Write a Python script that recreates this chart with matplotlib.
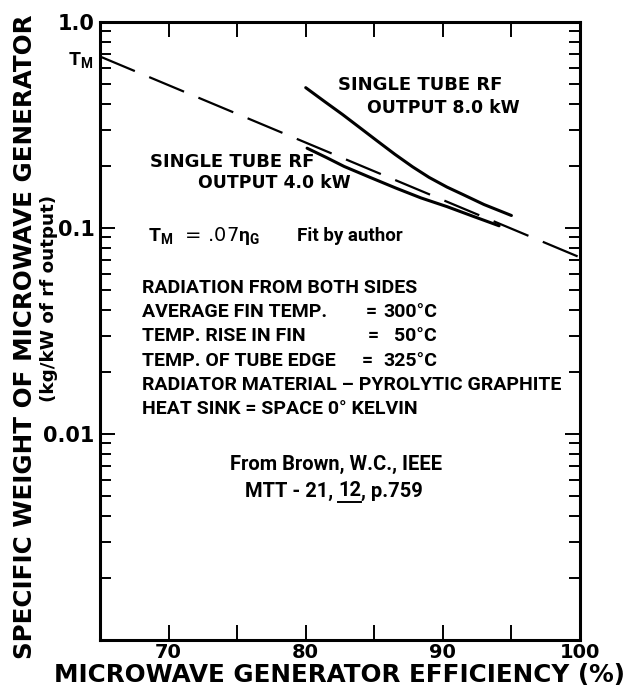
import matplotlib
matplotlib.use("Agg")
import matplotlib.pyplot as plt
from matplotlib.lines import Line2D
from matplotlib.ticker import LogLocator, NullFormatter

# Microwave generator efficiency (%) vs specific weight (kg/kW of rf output)
eff_fit = [65.0, 100.0]
weight_fit = [0.68, 0.072]

eff_8kw = [80.0, 81.4, 82.7, 84.0, 85.2, 86.5, 87.8, 89.0, 90.3, 91.5, 93.0, 95.0]
weight_8kw = [0.48, 0.41, 0.355, 0.305, 0.265, 0.228, 0.198, 0.176, 0.158, 0.145, 0.130, 0.115]

eff_4kw = [80.1, 81.5, 82.8, 84.7, 86.6, 88.4, 90.3, 92.2, 94.1]
weight_4kw = [0.244, 0.22, 0.199, 0.176, 0.156, 0.14, 0.127, 0.114, 0.1025]

x_ticks = [70, 75, 80, 85, 90, 95, 100]
x_tick_labels = ["70", "", "80", "", "90", "", "100"]
y_ticks = [0.001, 0.01, 0.1, 1.0]
y_tick_labels = ["", "0.01", "0.1", "1.0"]

# (text, value after "=", x of "=" in px)
conditions = [
    ("RADIATION FROM BOTH SIDES", None, None),
    ("AVERAGE FIN TEMP.", "300°C", 366),
    ("TEMP. RISE IN FIN", "50°C", 368),
    ("TEMP. OF TUBE EDGE", "325°C", 362),
    ("RADIATOR MATERIAL \u2013 PYROLYTIC GRAPHITE", None, None),
    ("HEAT SINK = SPACE 0° KELVIN", None, None),
]

W, H = 628, 700
plt.rcParams["mathtext.fontset"] = "custom"
plt.rcParams["mathtext.rm"] = "Roboto:bold"
plt.rcParams["mathtext.it"] = "Roboto:bold"
plt.rcParams["mathtext.bf"] = "Roboto:bold"

LABEL = dict(family="DejaVu Sans", weight="bold")
BODY = dict(family=["Roboto", "DejaVu Sans"], weight="bold")

fig = plt.figure(figsize=(W / 100, H / 100), dpi=100)
ax = fig.add_axes([100 / W, 60 / H, 480 / W, 618 / H])


def px(x, y):
    # pixel position (from top-left) -> figure fraction
    return x / W, 1 - y / H


ax.plot(eff_fit, weight_fit, color="black", lw=1.6, dashes=(17, 7))
ax.plot(eff_8kw, weight_8kw, color="black", lw=2.2, solid_capstyle="round")
ax.plot(eff_4kw, weight_4kw, color="black", lw=2.2, solid_capstyle="round")

ax.set_yscale("log")
ax.set_xlim(65, 100)
ax.set_ylim(0.001, 1.0)

ax.set_xticks(x_ticks)
ax.set_xticklabels(x_tick_labels, fontsize=14, **LABEL)
ax.set_yticks(y_ticks)
ax.set_yticklabels(y_tick_labels, fontsize=15, **LABEL)
ax.yaxis.set_minor_locator(LogLocator(base=10, subs=range(2, 10)))
ax.yaxis.set_minor_formatter(NullFormatter())

ax.tick_params(axis="both", which="major", direction="in", length=10.5, width=1.4,
               top=True, right=True)
ax.tick_params(axis="x", which="major", pad=2)
ax.tick_params(axis="y", which="major", pad=4)
ax.tick_params(axis="y", which="minor", direction="in", length=8, width=1.4,
               left=True, right=True)
for s in ax.spines.values():
    s.set_linewidth(2.2)

ax.set_xlabel("MICROWAVE GENERATOR EFFICIENCY (%)", fontsize=17.7, **LABEL)
ax.xaxis.set_label_coords(0.5, (640 - 675) / 618)
ax.xaxis.label.set_va("center")
ax.set_ylabel("SPECIFIC WEIGHT OF MICROWAVE GENERATOR", fontsize=17.7, **LABEL)
ax.yaxis.set_label_coords((25 - 100) / 480, (640 - 337) / 618)
ax.yaxis.label.set_va("center")
fig.text(*px(49, 298), "(kg/kW of rf output)", rotation=90, fontsize=13.2,
         ha="center", va="center", **LABEL)

# curve labels
fig.text(*px(68, 60), r"$T_M$", fontsize=14, ha="left", va="center")
fig.text(*px(338, 85), "SINGLE TUBE RF", fontsize=13, va="center", **LABEL)
fig.text(*px(367, 108), "OUTPUT 8.0 kW", fontsize=12.4, va="center", **LABEL)
fig.text(*px(150, 162), "SINGLE TUBE RF", fontsize=13, va="center", **LABEL)
fig.text(*px(198, 183), "OUTPUT 4.0 kW", fontsize=12.4, va="center", **LABEL)
fig.text(*px(148, 236), r"$T_M$  = .07$\eta_G$", fontsize=14, va="center")
fig.text(*px(297, 236), "Fit by author", fontsize=13.5, va="center", **BODY)

# radiator conditions
for i, (line, value, x_eq) in enumerate(conditions):
    y = 288 + i * 24.2
    fig.text(*px(142, y), line, fontsize=14, va="center", **BODY)
    if value is not None:
        fig.text(*px(x_eq, y), "=", fontsize=14, va="center", **BODY)
        fig.text(*px(437, y), value, fontsize=14, va="center", ha="right", **BODY)

# source reference, volume number underlined
fig.text(*px(230, 464), "From Brown, W.C., IEEE", fontsize=14.5, va="center", **BODY)
renderer = fig.canvas.get_renderer()
x0 = 245
for part in ["MTT - 21, ", "12", ", p.759"]:
    t = fig.text(*px(x0, 491), part, fontsize=14.5, va="center", **BODY)
    bb = t.get_window_extent(renderer)
    if part == "12":
        yl = bb.y0 - 1.0
        fig.add_artist(Line2D([bb.x0 / W, bb.x1 / W], [yl / H, yl / H],
                              transform=fig.transFigure, color="black", lw=1.4))
    x0 = bb.x1

fig.savefig("out.png", dpi=100)
